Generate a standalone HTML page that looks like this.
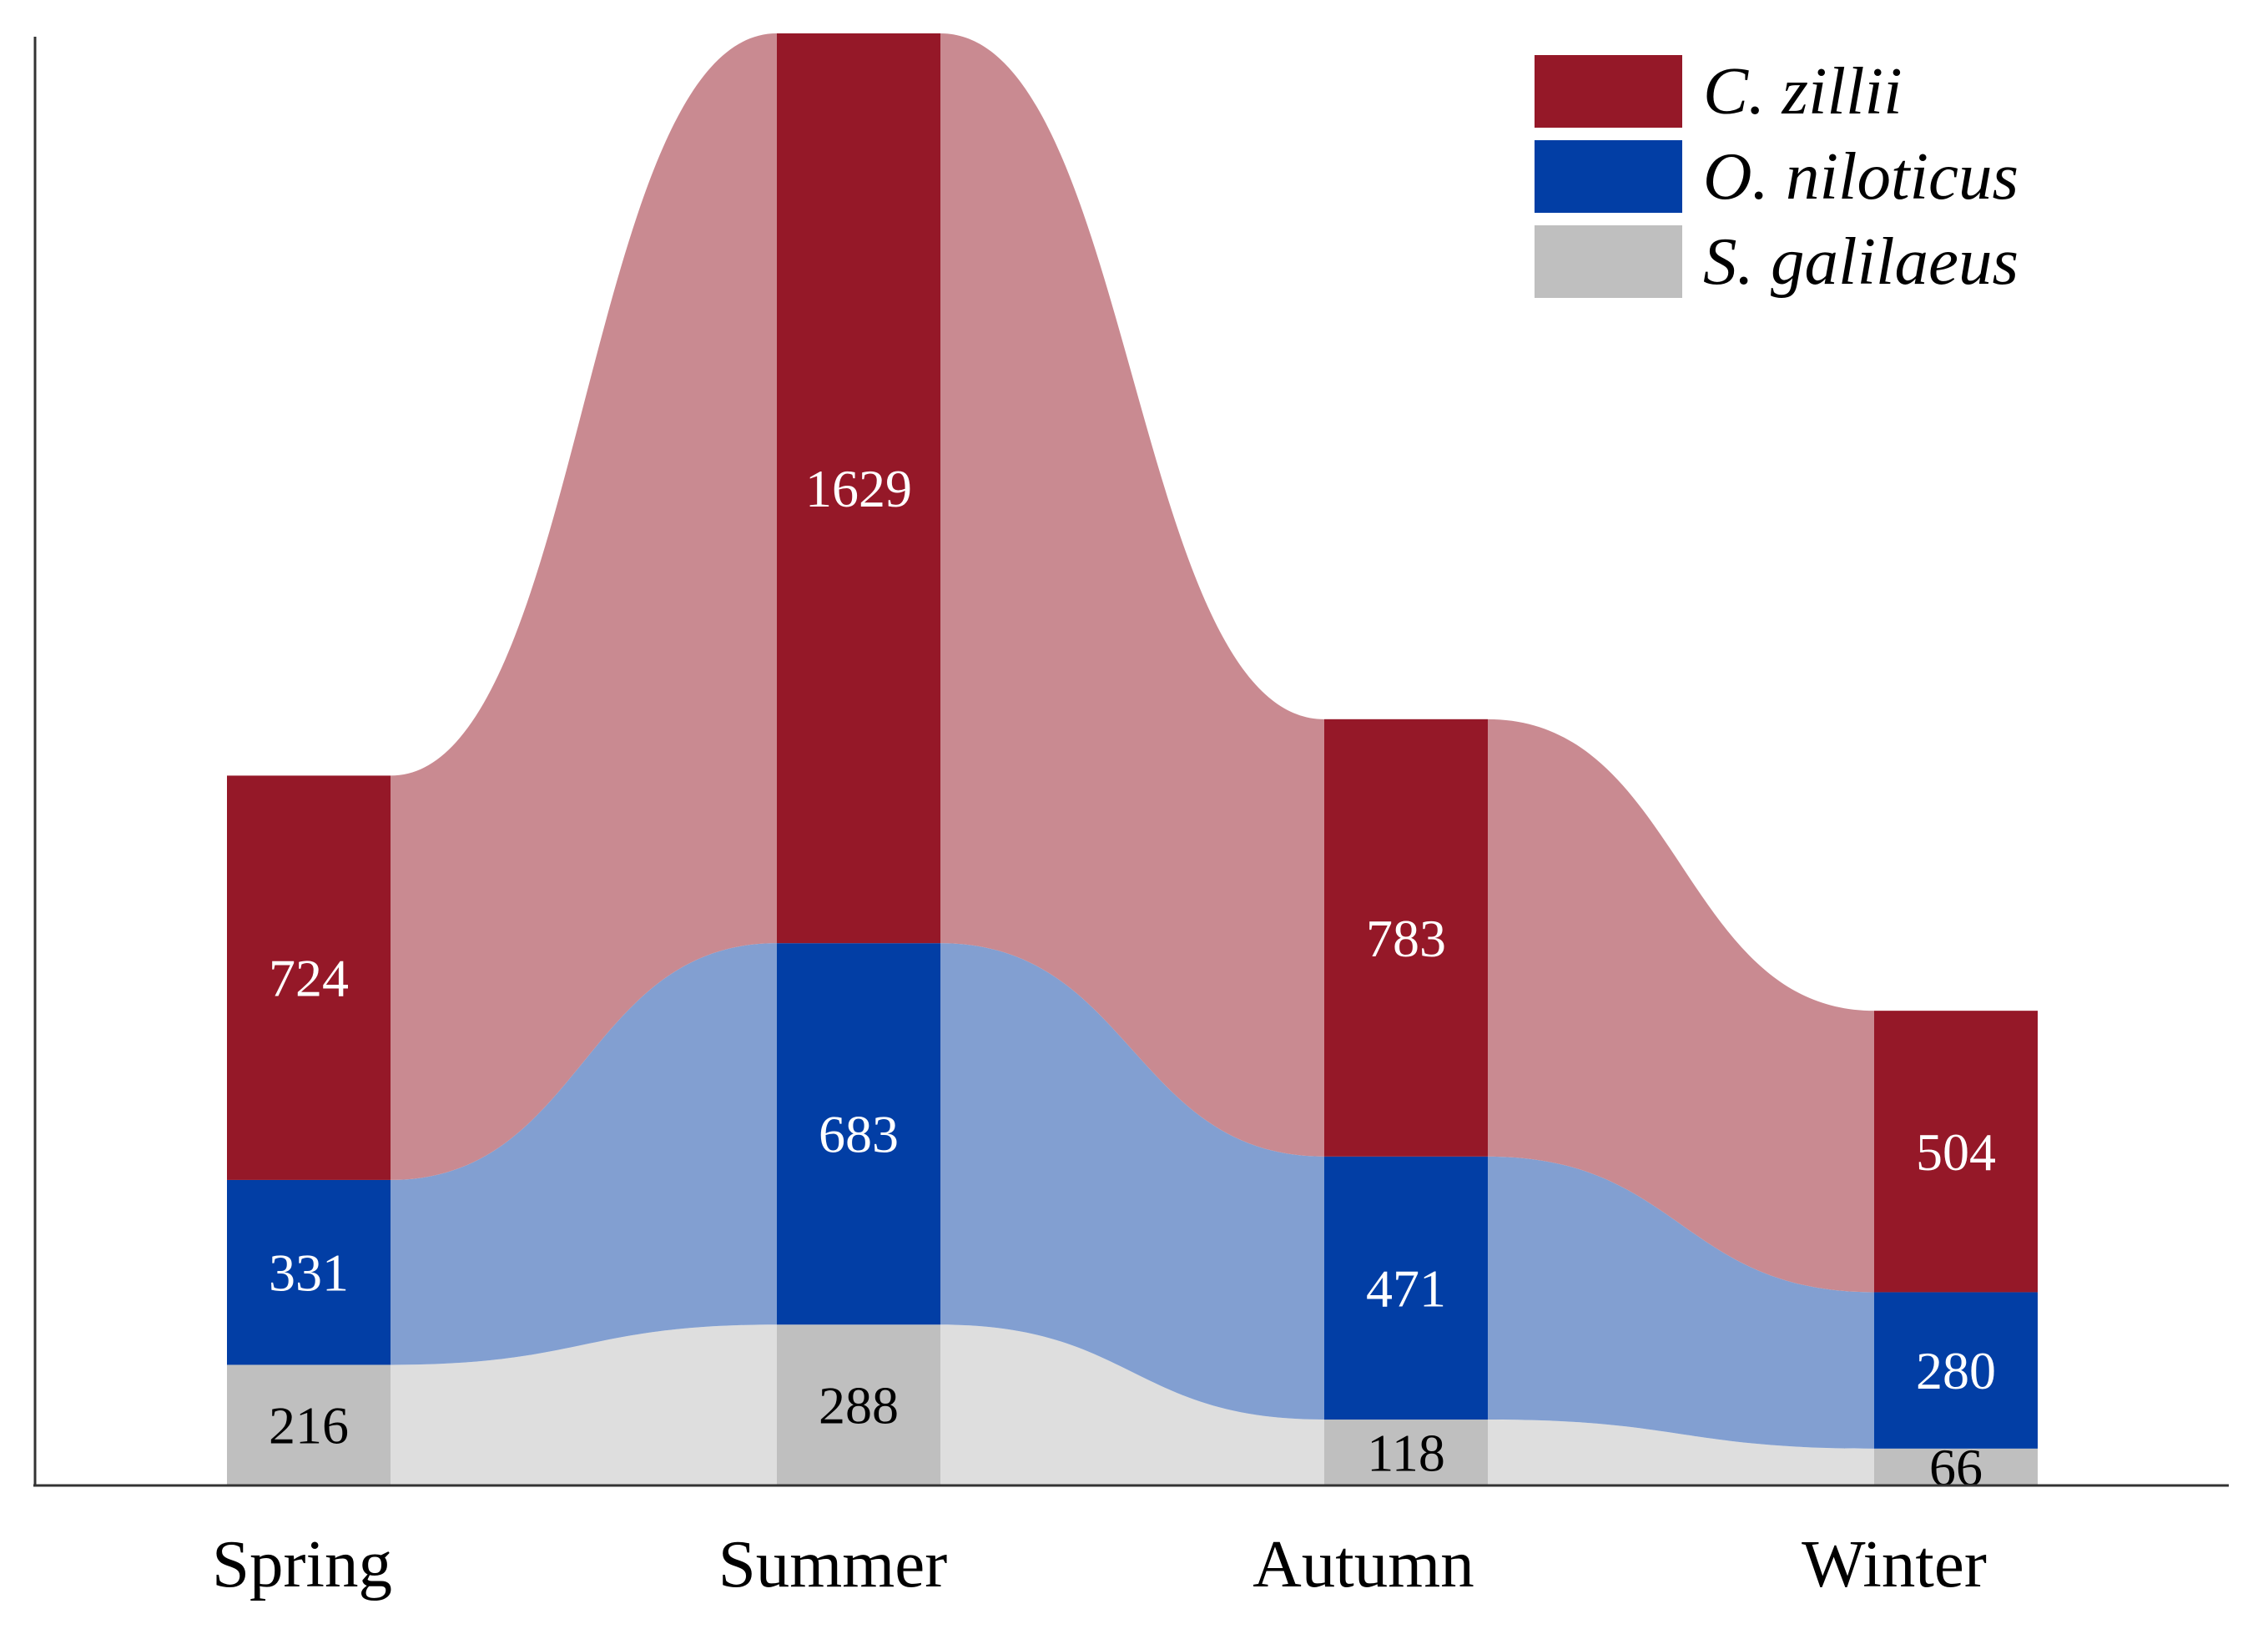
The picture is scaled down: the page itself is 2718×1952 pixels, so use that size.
<!DOCTYPE html>
<html><head><meta charset="utf-8"><style>
html,body{margin:0;padding:0;background:#fff}
svg{display:block}
text{font-family:"Liberation Serif",serif}
</style></head><body>
<svg id="chart" width="2718" height="1952" viewBox="0 0 2718 1952"></svg>
<script>
const seasons=["Spring","Summer","Autumn","Winter"];
const czillii=[724,1629,783,504];
const oniloticus=[331,683,471,280];
const sgalilaeus=[216,288,118,66];
const speciesNames=["C. zillii","O. niloticus","S. galilaeus"];

const NS="http://www.w3.org/2000/svg";
const svg=document.getElementById('chart');
const baseY=1780, pxPerUnit=1740/2600;
const barW=196;
const barLeft=[272,931,1587,2246];
function y(v){return baseY-v*pxPerUnit;}
function labelX(i){return 362+i*636;}
function mk(tag,attrs){const e=document.createElementNS(NS,tag);for(const k in attrs)e.setAttribute(k,attrs[k]);svg.appendChild(e);return e;}

const series=[sgalilaeus,oniloticus,czillii];
const barColors=["#bfbfbf","#023ea5","#951828"];
const flowColors=["#dedede","#829fd1","#c98a91"];
const textColors=["#000","#fff","#fff"];
const sNames=["s-galilaeus","o-niloticus","c-zillii"];

const cum=seasons.map((s,i)=>{let a=0;return series.map(ser=>{const lo=a;a+=ser[i];return [lo,a];});});

for(let k=0;k<3;k++){
  for(let i=0;i<seasons.length-1;i++){
    const x0=barLeft[i]+barW,x1=barLeft[i+1],mx=(x0+x1)/2;
    const t0=y(cum[i][k][1]),t1=y(cum[i+1][k][1]),b0=y(cum[i][k][0]),b1=y(cum[i+1][k][0]);
    const d=`M${x0},${t0} C${mx},${t0} ${mx},${t1} ${x1},${t1} L${x1},${b1} C${mx},${b1} ${mx},${b0} ${x0},${b0} Z`;
    const p=mk('path',{d:d,fill:flowColors[k]});
    
    
  }
}
for(let i=0;i<seasons.length;i++){
  for(let k=0;k<3;k++){
    const [lo,hi]=cum[i][k];
    const r=mk('rect',{x:barLeft[i],y:y(hi),width:barW,height:y(lo)-y(hi),fill:barColors[k]});
    
    
    const t=mk('text',{x:barLeft[i]+barW/2,y:(y(lo)+y(hi))/2+22,'text-anchor':'middle','font-size':64,fill:textColors[k]});
    t.textContent=series[k][i];
    
    
  }
  const lab=mk('text',{x:labelX(i),y:1901,'text-anchor':'middle','font-size':81,fill:'#000'});
  lab.textContent=seasons[i];
  
  
}
const ax=mk('line',{x1:42,y1:44,x2:42,y2:baseY,stroke:'#333','stroke-width':3});


const bx=mk('line',{x1:40,y1:baseY,x2:2671,y2:baseY,stroke:'#333','stroke-width':3});


const legY=[66,168,270];
const legCols=["#951828","#023ea5","#bfbfbf"];
for(let k=0;k<3;k++){
  const r=mk('rect',{x:1839,y:legY[k],width:177,height:87,fill:legCols[k]});
  
  
  const t=mk('text',{x:2041,y:legY[k]+70,'font-size':81,'font-style':'italic',fill:'#000'});
  t.textContent=speciesNames[k];
  
  
}
</script>
</body></html>
